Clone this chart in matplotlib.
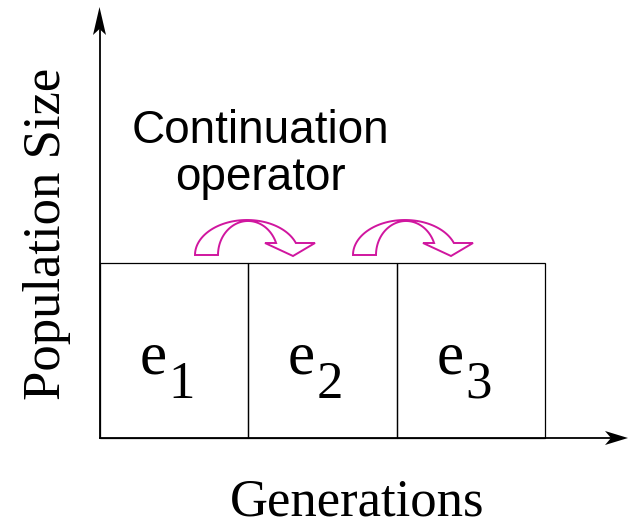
import numpy as np
import matplotlib.pyplot as plt
from matplotlib.patches import Polygon, Rectangle

# generations shown as boxes, and the operator arrows between them
generations = ['1', '2', '3']
arrow_between = [(1, 2), (2, 3)]
texto_operador = 'Continuation\noperator'
rotulo_x = 'Generations'
rotulo_y = 'Population Size'

magenta = '#d0169f'
serif = ['Liberation Serif', 'DejaVu Serif']
sans = ['Liberation Sans', 'DejaVu Sans']

fig = plt.figure(figsize=(6.29, 5.23), dpi=100)
ax = fig.add_axes([0, 0, 1, 1])
ax.set_xlim(0, 629)
ax.set_ylim(523, 0)
ax.axis('off')

# origem e tamanho das caixas (em pixels da figura)
x0, y0 = 99.5, 438
largura = 148.5
altura = 175

# eixos
ax.plot([x0, x0], [y0, 30], color='black', lw=1.3)
ax.plot([x0, 612], [y0, y0], color='black', lw=1.3)
ax.add_patch(Polygon([(x0, 7), (x0 - 6.5, 35), (x0, 29), (x0 + 6.5, 35)],
                     closed=True, color='black', lw=0))
ax.add_patch(Polygon([(628, y0), (605, y0 - 7), (611, y0), (605, y0 + 7)],
                     closed=True, color='black', lw=0))

# caixas e rotulos e_i
for i, g in enumerate(generations):
    esq = x0 + i * largura
    ax.add_patch(Rectangle((esq, y0 - altura), largura, altura,
                           fill=False, ec='black', lw=0.9))
    ex = esq + 40
    ax.text(ex, 373, 'e', family=serif, fontsize=44, ha='left', va='baseline')
    ax.text(ex + 29, 398, g, family=serif, fontsize=38, ha='left', va='baseline')


def seta_curva(cx):
    # arco externo e interno (elipses) + ponta da seta
    cy = 255
    a_out, b_out = 52, 35
    a_in, b_in = 30, 34
    t_out_fim = np.arcsin(12 / b_out)
    t_in_fim = np.arcsin(12 / b_in)
    t = np.linspace(np.pi, t_out_fim, 60)
    externo = np.column_stack([cx + a_out * np.cos(t), cy - b_out * np.sin(t)])
    t2 = np.linspace(t_in_fim, np.pi, 60)
    interno = np.column_stack([cx + 1 + a_in * np.cos(t2), cy - b_in * np.sin(t2)])
    ponta = np.array([[cx + 68, 243], [cx + 46, 256], [cx + 18, 243]])
    pts = np.vstack([externo, ponta, interno])
    ax.add_patch(Polygon(pts, closed=True, fc='white', ec=magenta, lw=1.4,
                         joinstyle='miter'))


for a, b in arrow_between:
    seta_curva(x0 + (a - 1) * largura + 147.5 + 0.5 * (a - 1) * 19)

ax.text(260, 190, texto_operador, family=sans, fontsize=33, ha='center',
        va='baseline', linespacing=1.1, multialignment='center')

ax.text(357, 516, rotulo_x, family=serif, fontsize=38, ha='center', va='baseline')
ax.text(60, 234, rotulo_y, family=serif, fontsize=38, ha='center', va='baseline',
        rotation=90, rotation_mode='anchor')

plt.savefig('out.png', dpi=100)
